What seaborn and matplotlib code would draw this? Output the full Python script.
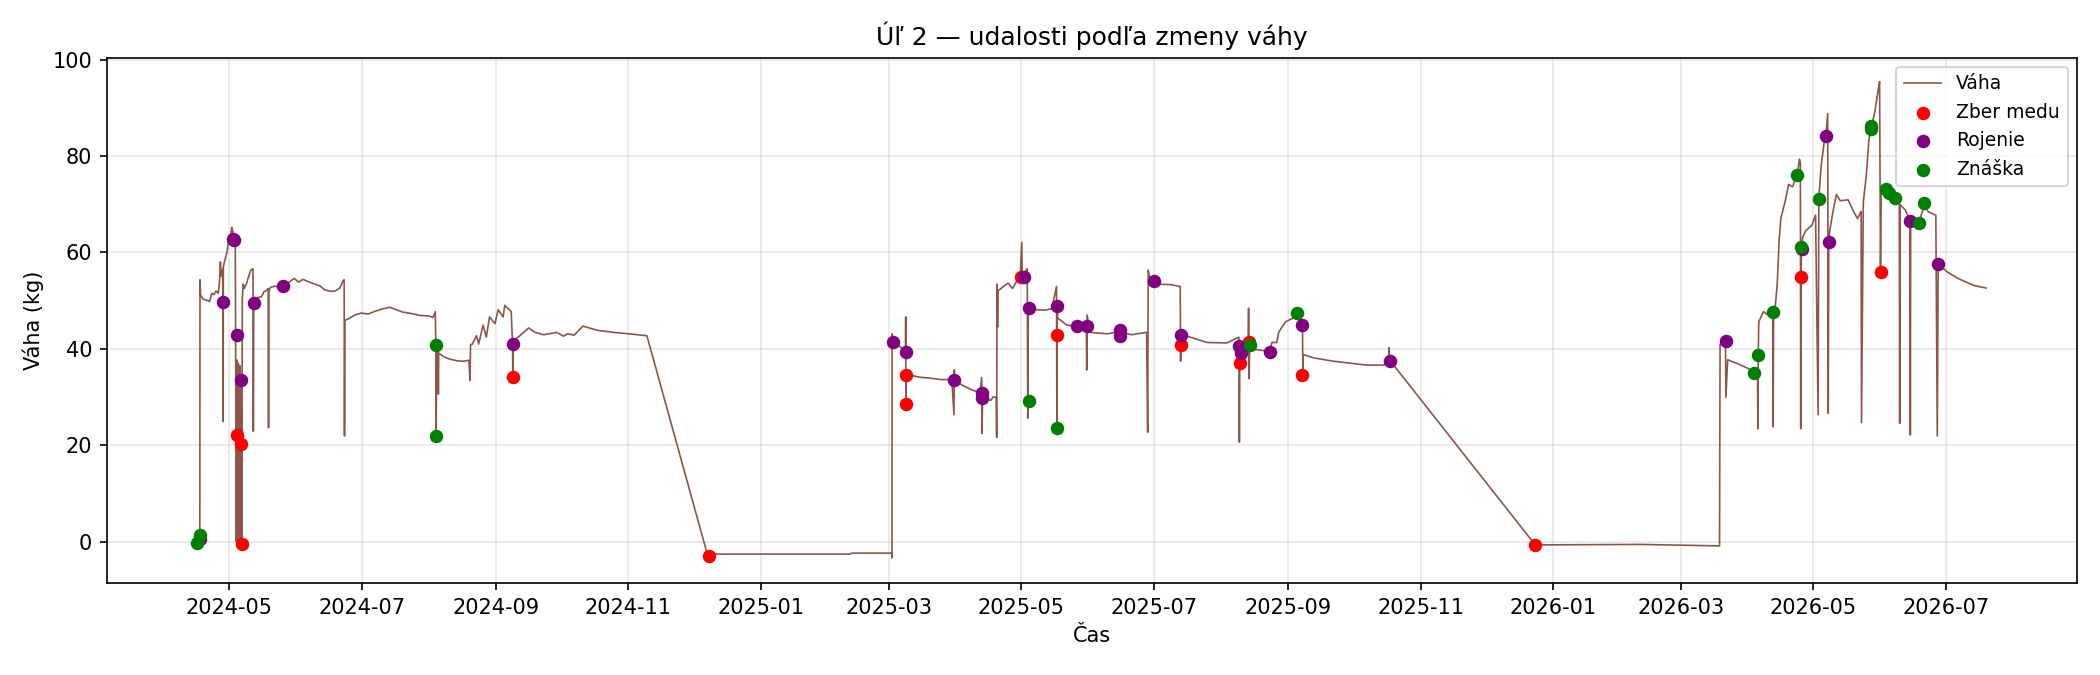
import pandas as pd
import matplotlib
matplotlib.use("Agg")
import matplotlib.pyplot as plt
import matplotlib.dates as mdates
import seaborn as sns

# ---- weight series (kg) ----
w24_time = [
    "2024-04-16 12:00", "2024-04-17 12:00", "2024-04-17 14:00", "2024-04-17 20:00",
    "2024-04-19", "2024-04-21", "2024-04-22", "2024-04-23", "2024-04-24", "2024-04-25",
    "2024-04-26", "2024-04-26 12:00", "2024-04-27 00:00", "2024-04-27 06:00",
    "2024-04-28 00:00", "2024-04-28 04:00", "2024-04-28 06:00", "2024-04-28 08:00",
    "2024-04-29 12:00", "2024-04-30", "2024-04-30 18:00", "2024-05-01 12:00",
    "2024-05-02 06:00", "2024-05-02 18:00", "2024-05-03 00:00", "2024-05-03 12:00",
    "2024-05-03 20:00", "2024-05-04 00:00", "2024-05-04 04:00", "2024-05-04 08:00",
    "2024-05-04 12:00", "2024-05-04 20:00", "2024-05-05 06:00", "2024-05-05 14:00",
    "2024-05-05 22:00", "2024-05-06 06:00", "2024-05-06 12:00", "2024-05-06 16:00",
    "2024-05-06 20:00", "2024-05-07 02:00", "2024-05-07 12:00", "2024-05-08",
    "2024-05-09", "2024-05-10", "2024-05-11", "2024-05-12 00:00", "2024-05-12 04:00",
    "2024-05-12 08:00", "2024-05-13", "2024-05-14", "2024-05-16", "2024-05-17",
    "2024-05-18", "2024-05-19 00:00", "2024-05-19 04:00", "2024-05-19 08:00",
    "2024-05-20", "2024-05-22", "2024-05-24", "2024-05-26", "2024-05-28", "2024-05-31",
    "2024-06-02", "2024-06-04", "2024-06-06", "2024-06-09", "2024-06-12", "2024-06-14",
    "2024-06-17", "2024-06-19", "2024-06-21", "2024-06-22 12:00", "2024-06-23 00:00",
    "2024-06-23 04:00", "2024-06-23 08:00", "2024-06-25", "2024-06-28", "2024-07-01",
    "2024-07-04", "2024-07-08", "2024-07-11", "2024-07-14", "2024-07-17", "2024-07-20",
    "2024-07-24", "2024-07-28", "2024-08-01", "2024-08-03", "2024-08-04 00:00",
    "2024-08-04 06:00", "2024-08-04 10:00", "2024-08-04 14:00", "2024-08-05 06:00",
    "2024-08-05 10:00", "2024-08-05 14:00", "2024-08-08", "2024-08-11", "2024-08-14",
    "2024-08-17", "2024-08-19 12:00", "2024-08-20 00:00", "2024-08-20 06:00",
    "2024-08-21", "2024-08-23", "2024-08-24", "2024-08-26", "2024-08-27 12:00",
    "2024-08-29", "2024-08-31 12:00", "2024-09-02", "2024-09-04 06:00", "2024-09-05",
    "2024-09-08 00:00", "2024-09-08 14:00", "2024-09-08 18:00", "2024-09-09",
    "2024-09-10", "2024-09-12", "2024-09-16", "2024-09-19", "2024-09-23", "2024-09-29",
    "2024-10-02", "2024-10-04", "2024-10-07", "2024-10-11", "2024-10-14", "2024-10-18",
    "2024-10-25", "2024-11-01", "2024-11-09 12:00",
]
w24_kg = [
    0.0, 0.6, 54.3, 51.1,
    50.3, 50.0, 49.8, 51.5, 51.2, 52.0,
    51.5, 53.4, 58.0, 55.0,
    56.5, 49.6, 24.9, 57.0,
    59.2, 60.0, 62.4, 62.8,
    65.2, 64.3, 62.8, 62.5,
    63.0, 42.9, 22.0, 0.0,
    37.7, 0.3, 37.0, 0.0,
    36.5, 0.2, 33.6, 20.2,
    -0.6, 50.5, 53.4, 52.5,
    53.5, 55.0, 56.3, 56.6, 22.9,
    49.4, 50.2, 50.6, 50.8, 51.8,
    52.0, 52.5, 23.6, 52.0,
    52.7, 53.0, 52.7, 53.1, 53.6, 54.6,
    53.8, 54.4, 54.0, 53.5, 53.0, 52.2,
    51.9, 52.0, 52.6, 54.1, 54.3,
    21.9, 45.9, 46.2, 47.0, 47.4,
    47.2, 47.9, 48.3, 48.6, 48.1, 47.6,
    47.3, 46.9, 46.8, 46.5, 47.7,
    40.8, 21.9, 40.0, 39.4,
    30.6, 39.1, 38.3, 37.8, 37.5,
    37.4, 37.6, 33.4, 40.9,
    40.9, 42.7, 41.0, 44.9, 42.4,
    46.6, 45.2, 48.1, 46.6, 49.0,
    47.7, 40.9, 34.1, 41.0,
    42.0, 42.7, 44.3, 43.4, 42.9, 43.4,
    42.6, 43.1, 42.8, 44.7, 44.3, 43.8,
    43.4, 43.1, 42.7,
]

w25_time = [
    "2024-12-07 08:00", "2025-02-11", "2025-02-12", "2025-03-02 08:00",
    "2025-03-02 10:00", "2025-03-02 12:00", "2025-03-03", "2025-03-06",
    "2025-03-08 16:00", "2025-03-08 18:00", "2025-03-08 20:00", "2025-03-08 22:00",
    "2025-03-10", "2025-03-15", "2025-03-20", "2025-03-25", "2025-03-30",
    "2025-03-31 00:00", "2025-03-31 04:00", "2025-03-31 08:00", "2025-04-04",
    "2025-04-08", "2025-04-12", "2025-04-12 18:00", "2025-04-12 22:00",
    "2025-04-13 04:00", "2025-04-15", "2025-04-17", "2025-04-18", "2025-04-19 12:00",
    "2025-04-19 16:00", "2025-04-19 20:00", "2025-04-20 02:00", "2025-04-20 08:00",
    "2025-04-23", "2025-04-25", "2025-04-27", "2025-04-29", "2025-04-30 12:00",
    "2025-05-01 06:00", "2025-05-01 10:00", "2025-05-03 18:00", "2025-05-04 00:00",
    "2025-05-04 06:00", "2025-05-07", "2025-05-12", "2025-05-15", "2025-05-17 06:00",
    "2025-05-17 10:00", "2025-05-17 14:00", "2025-05-17 18:00", "2025-05-18",
    "2025-05-22", "2025-05-26", "2025-05-31 00:00", "2025-05-31 04:00",
    "2025-05-31 08:00", "2025-06-01 18:00", "2025-06-09 12:00", "2025-06-15 12:00",
    "2025-06-20 18:00", "2025-06-27 18:00", "2025-06-28 06:00", "2025-06-28 12:00",
    "2025-06-29 06:00", "2025-07-01", "2025-07-02 12:00", "2025-07-09",
    "2025-07-13 06:00", "2025-07-13 10:00", "2025-07-13 14:00", "2025-07-16 08:00",
    "2025-07-25 14:00", "2025-08-03 18:00", "2025-08-09 06:00", "2025-08-09 12:00",
    "2025-08-09 18:00", "2025-08-10 06:00", "2025-08-13 12:00", "2025-08-13 18:00",
    "2025-08-14 00:00", "2025-08-14 06:00", "2025-08-16", "2025-08-20 18:00",
    "2025-08-23 12:00", "2025-08-24 12:00", "2025-08-26 18:00", "2025-08-27 14:00",
    "2025-08-30 18:00", "2025-09-03 12:00", "2025-09-04 22:00", "2025-09-07 14:00",
    "2025-09-07 18:00", "2025-09-07 22:00", "2025-09-12 18:00", "2025-09-21 22:00",
    "2025-10-07 08:00", "2025-10-15", "2025-10-17 06:00", "2025-10-17 10:00",
    "2025-10-17 14:00", "2025-10-19 14:00",
]
w25_kg = [
    -2.6, -2.6, -2.4, -2.4,
    -3.4, 43.1, 41.4, 40.5,
    39.4, 46.6, 28.6, 34.6,
    34.6, 34.1, 33.9, 33.6, 33.6,
    26.3, 35.6, 33.4, 32.4,
    31.5, 30.9, 34.0, 22.4,
    29.7, 29.5, 29.3, 30.0, 29.9,
    21.6, 53.4, 44.5, 52.0,
    53.0, 53.6, 52.5, 54.1, 54.9,
    62.1, 54.9, 56.6, 25.6,
    48.4, 48.1, 48.0, 48.3, 52.9,
    23.6, 48.8, 46.3, 46.3,
    44.9, 44.7, 44.7, 35.6,
    47.0, 43.4, 43.1, 43.5,
    42.9, 43.4, 22.7, 56.3,
    54.6, 54.0, 53.4, 53.3,
    52.9, 37.4, 42.9, 42.6,
    41.3, 41.2, 42.4, 20.6,
    40.6, 39.1, 40.0, 48.4,
    33.8, 40.8, 39.9, 39.6,
    39.3, 41.3, 41.3, 43.4,
    45.6, 46.4, 47.5, 44.9,
    34.5, 38.8, 38.1, 37.4,
    36.6, 36.6, 37.4, 40.2,
    37.4, 36.6,
]

w26_time = [
    "2025-12-23 20:00", "2026-02-10", "2026-03-18 18:00", "2026-03-19 00:00",
    "2026-03-20", "2026-03-21 12:00", "2026-03-21 16:00", "2026-03-22 12:00",
    "2026-03-27", "2026-04-01", "2026-04-03 14:00", "2026-04-05 06:00",
    "2026-04-05 10:00", "2026-04-05 14:00", "2026-04-05 20:00", "2026-04-08",
    "2026-04-10", "2026-04-12 06:00", "2026-04-12 10:00", "2026-04-12 16:00",
    "2026-04-13 12:00", "2026-04-14 08:00", "2026-04-15 06:00", "2026-04-16",
    "2026-04-18", "2026-04-19 14:00", "2026-04-21 10:00", "2026-04-23",
    "2026-04-23 12:00", "2026-04-24 14:00", "2026-04-25 00:00", "2026-04-25 04:00",
    "2026-04-25 08:00", "2026-04-25 12:00", "2026-04-25 20:00", "2026-04-26",
    "2026-04-27 12:00", "2026-04-30 06:00", "2026-05-02", "2026-05-03 04:00",
    "2026-05-03 12:00", "2026-05-04 14:00", "2026-05-06 10:00", "2026-05-06 18:00",
    "2026-05-07 14:00", "2026-05-07 20:00", "2026-05-08 02:00", "2026-05-08 12:00",
    "2026-05-10", "2026-05-11 14:00", "2026-05-13 10:00", "2026-05-17",
    "2026-05-19 14:00", "2026-05-21 08:00", "2026-05-23 00:00", "2026-05-23 04:00",
    "2026-05-24", "2026-05-25 10:00", "2026-05-26 14:00", "2026-05-27 12:00",
    "2026-05-29 06:00", "2026-05-31", "2026-05-31 12:00", "2026-05-31 22:00",
    "2026-06-01 06:00", "2026-06-03 12:00", "2026-06-04 22:00", "2026-06-07 14:00",
    "2026-06-09 14:00", "2026-06-09 18:00", "2026-06-09 22:00", "2026-06-12 08:00",
    "2026-06-14 12:00", "2026-06-14 16:00", "2026-06-14 20:00", "2026-06-16 18:00",
    "2026-06-18 12:00", "2026-06-20 06:00", "2026-06-21 02:00", "2026-06-22 22:00",
    "2026-06-26 10:00", "2026-06-27 02:00", "2026-06-27 12:00", "2026-07-01 18:00",
    "2026-07-07", "2026-07-14", "2026-07-19 14:00",
]
w26_kg = [
    -0.7, -0.6, -0.9, 40.9,
    41.2, 41.6, 29.9, 37.7,
    36.9, 35.9, 35.0, 35.0,
    23.4, 38.8, 45.6, 47.7,
    47.0, 47.6, 23.8, 47.8,
    49.1, 53.4, 62.7, 67.0,
    70.6, 74.1, 73.6, 75.6,
    76.0, 79.3, 78.5, 23.4,
    54.9, 61.1, 60.6, 63.1,
    64.5, 65.6, 67.7, 26.3,
    71.1, 78.0, 84.4, 84.1,
    88.8, 26.6, 62.1, 64.4,
    68.4, 72.0, 70.7, 70.9,
    68.4, 67.0, 68.5, 24.7,
    70.4, 76.1, 83.4, 85.6,
    89.0, 94.1, 95.4, 55.9,
    73.5, 73.1, 72.4, 71.3,
    69.9, 24.5, 69.9, 68.8,
    66.6, 22.1, 66.8, 66.8,
    66.1, 68.5, 70.2, 68.4,
    67.7, 21.9, 57.6, 55.9,
    54.5, 53.1, 52.6,
]

# ---- events ----
zber_time = [
    "2024-05-04 10:00", "2024-05-06 16:00", "2024-05-06 18:00", "2024-09-08 14:00",
    "2024-12-08 00:00", "2025-03-08 20:00", "2025-03-08 20:00", "2025-04-30 20:00",
    "2025-05-17 16:00", "2025-07-13 10:00", "2025-08-09 22:00", "2025-08-14 04:00",
    "2025-09-07 14:00", "2025-12-23 22:00", "2026-04-25 10:00", "2026-06-01 00:00",
]
zber_kg = [22.0, 20.2, -0.6, 34.1, -2.9, 34.6, 28.6, 54.9,
           42.9, 40.8, 37.0, 41.4, 34.5, -0.7, 54.9, 55.9]

roj_time = [
    "2024-04-17 18:00", "2024-04-28 04:00", "2024-05-02 22:00", "2024-05-03 06:00",
    "2024-05-04 10:00", "2024-05-06 16:00", "2024-05-12 12:00", "2024-05-26 00:00",
    "2024-09-08 14:00", "2025-03-02 20:00", "2025-03-08 20:00", "2025-03-30 22:00",
    "2025-04-12 20:00", "2025-04-12 20:00", "2025-05-02 10:00", "2025-05-04 10:00",
    "2025-05-17 16:00", "2025-05-26 16:00", "2025-05-31 06:00", "2025-06-15 14:00",
    "2025-06-15 14:00", "2025-07-01 00:00", "2025-07-13 10:00", "2025-08-09 12:00",
    "2025-08-10 06:00", "2025-08-23 10:00", "2025-09-07 14:00", "2025-10-17 18:00",
    "2026-03-21 22:00", "2026-04-25 18:00", "2026-05-06 18:00", "2026-05-08 02:00",
    "2026-06-14 14:00", "2026-06-27 12:00",
]
roj_kg = [0.5, 49.6, 62.8, 62.5, 42.9, 33.6, 49.4, 53.1,
          40.9, 41.4, 39.4, 33.6, 30.9, 29.7, 54.9, 48.4,
          48.8, 44.7, 44.7, 43.8, 42.7, 54.0, 42.9, 40.6,
          39.1, 39.3, 44.9, 37.4, 41.6, 60.6, 84.1, 62.1,
          66.6, 57.6]

znaska_time = [
    "2024-04-16 10:00", "2024-04-17 14:00", "2024-08-04 12:00", "2024-08-04 12:00",
    "2025-05-04 10:00", "2025-05-17 16:00", "2025-08-14 10:00", "2025-09-04 22:00",
    "2026-04-03 14:00", "2026-04-05 16:00", "2026-04-12 10:00", "2026-04-23 12:00",
    "2026-04-25 10:00", "2026-05-03 12:00", "2026-05-27 12:00", "2026-05-27 18:00",
    "2026-06-03 12:00", "2026-06-04 22:00", "2026-06-07 14:00", "2026-06-18 12:00",
    "2026-06-21 02:00",
]
znaska_kg = [-0.3, 1.3, 40.8, 21.9, 29.1, 23.6, 40.8, 47.5,
             35.0, 38.8, 47.6, 76.0, 61.1, 71.1, 85.6, 86.2,
             73.1, 72.4, 71.3, 66.1, 70.2]

# ---- data frames ----
vaha = pd.DataFrame({
    "cas": pd.to_datetime(w24_time + w25_time + w26_time, format="ISO8601"),
    "kg": w24_kg + w25_kg + w26_kg,
})
udalosti = [
    ("Zber medu", zber_time, zber_kg, "red"),
    ("Rojenie", roj_time, roj_kg, "purple"),
    ("Znáška", znaska_time, znaska_kg, "green"),
]

# ---- plot ----
fig, ax = plt.subplots(figsize=(14, 4.5), dpi=150)
fig.subplots_adjust(left=0.0508, right=0.989, top=0.9147, bottom=0.1363)

sns.lineplot(data=vaha, x="cas", y="kg", estimator=None, sort=False,
             color="tab:brown", linewidth=0.8, label="Váha", ax=ax)

for nazov, t, kg, farba in udalosti:
    sns.scatterplot(x=pd.to_datetime(t, format="ISO8601"), y=kg, color=farba, s=42,
                    linewidth=0, label=nazov, zorder=3, ax=ax)

ax.set_xlim(pd.Timestamp("2024-03-05 14:00"), pd.Timestamp("2026-08-30 10:00"))
ax.set_ylim(-8.6, 100.4)
ax.xaxis.set_major_locator(mdates.MonthLocator(bymonth=[1, 3, 5, 7, 9, 11]))
ax.xaxis.set_major_formatter(mdates.DateFormatter("%Y-%m"))
ax.grid(True, alpha=0.3)

ax.set_title("Úľ 2 — udalosti podľa zmeny váhy", fontsize=12)
ax.set_xlabel("Čas")
ax.set_ylabel("Váha (kg)")
ax.legend(loc="upper right", fontsize=9)

plt.savefig("out.png", dpi=150)
plt.close()
